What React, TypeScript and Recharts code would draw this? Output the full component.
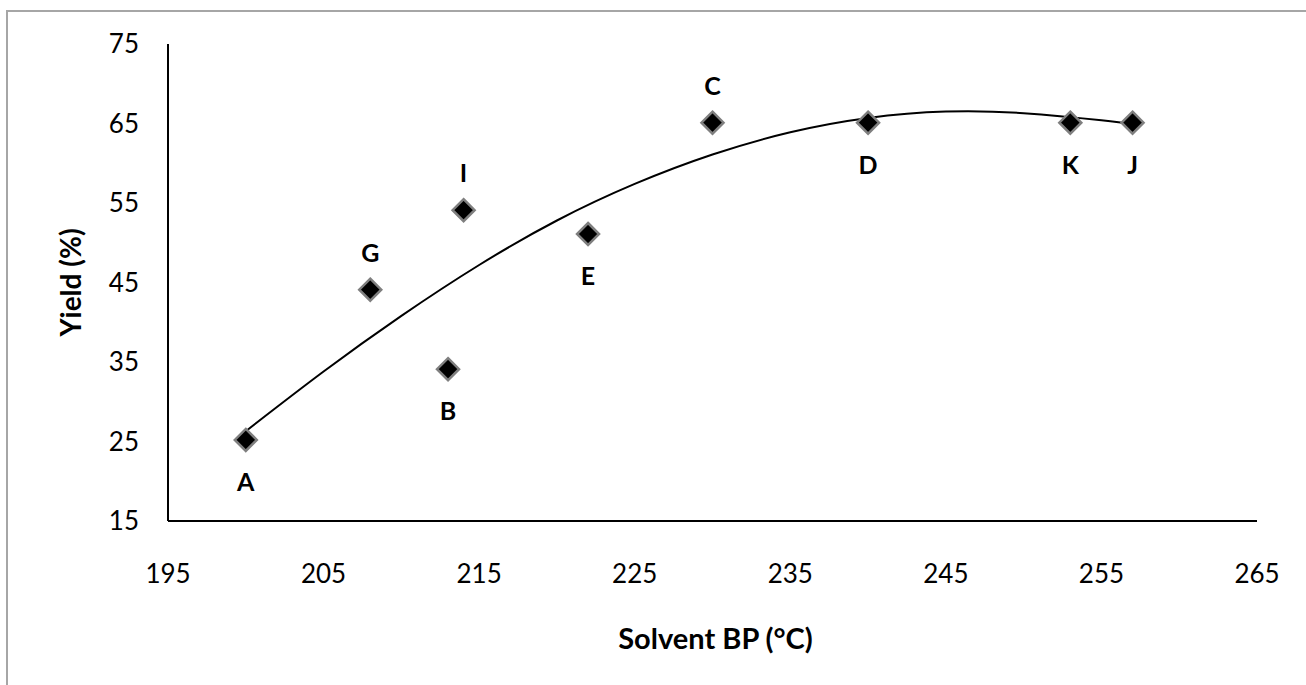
import React from 'react';
import { ComposedChart, Scatter, Line, XAxis, YAxis } from 'recharts';

// Solvent boiling points (°C) and yields (%)
const solvents = ['A', 'G', 'B', 'I', 'E', 'C', 'D', 'K', 'J'];
const boilingPoints = [200, 208, 213, 214, 222, 230, 240, 253, 257];
const yields = [25.2, 44.1, 34.1, 54.1, 51.1, 65.1, 65.1, 65.1, 65.1];
const labelSide = ['below', 'above', 'below', 'above', 'below', 'above', 'below', 'below', 'below'];

// Trend curve
const trendX = [200, 205, 210, 215, 220, 225, 230, 235, 240, 245, 250, 255, 257];
const trendY = [26.3, 33.8, 40.8, 47.2, 52.8, 57.4, 61.1, 63.9, 65.7, 66.5, 66.3, 65.4, 64.9];

const xTicks = [195, 205, 215, 225, 235, 245, 255, 265];
const yTicks = [15, 25, 35, 45, 55, 65, 75];

const points = solvents.map((name, i) => ({
  name,
  x: boilingPoints[i],
  y: yields[i],
  side: labelSide[i],
}));
const trend = trendX.map((x, i) => ({ x, t: trendY[i] }));

const FONT = 'Lato, "Open Sans", sans-serif';

const Diamond = (props: any) => {
  const { cx, cy, payload } = props;
  if (cx == null || cy == null) return null;
  const r = 11;
  const ly = payload.side === 'above' ? cy - 38 : cy + 41;
  return (
    <g>
      <path
        d={`M${cx},${cy - r}L${cx + r},${cy}L${cx},${cy + r}L${cx - r},${cy}Z`}
        fill="#000"
        stroke="#7f7f7f"
        strokeWidth={2.5}
      />
      <text
        x={cx}
        y={ly}
        textAnchor="middle"
        dominantBaseline="central"
        fontFamily={FONT}
        fontWeight={700}
        fontSize={25}
        fill="#000"
      >
        {payload.name}
      </text>
    </g>
  );
};

export default function App() {
  return (
    <div style={{ position: 'absolute', left: 0, top: 0, width: 1306, height: 685, background: '#fff', overflow: 'hidden' }}>
      <div
        style={{
          position: 'absolute',
          left: 6,
          top: 10,
          width: 1320,
          height: 700,
          borderTop: '2px solid #a6a6a6',
          borderLeft: '2px solid #a6a6a6',
        }}
      />
      <ComposedChart
        width={1306}
        height={685}
        margin={{ top: 44, right: 49, bottom: 0, left: 0 }}
        style={{ position: 'absolute', left: 0, top: 0 }}
      >
        <XAxis
          type="number"
          dataKey="x"
          domain={[195, 265]}
          ticks={xTicks}
          height={164}
          tickLine={false}
          tickSize={0}
          tickMargin={44}
          axisLine={{ stroke: '#000', strokeWidth: 2 }}
          tick={{ fill: '#000', fontSize: 26, fontFamily: FONT }}
          allowDuplicatedCategory={false}
          label={{
            content: (p: any) => {
              const vb = p.viewBox || {};
              return (
                <text
                  x={vb.x + vb.width / 2 + 3}
                  y={vb.y + 116}
                  textAnchor="middle"
                  dominantBaseline="central"
                  fontFamily={FONT}
                  fontWeight={700}
                  fontSize={29}
                  fill="#000"
                >
                  Solvent BP (°C)
                </text>
              );
            },
          }}
        />
        <YAxis
          type="number"
          domain={[15, 75]}
          ticks={yTicks}
          width={168}
          tickLine={false}
          tickSize={0}
          tickMargin={29}
          axisLine={{ stroke: '#000', strokeWidth: 2 }}
          tick={{ fill: '#000', fontSize: 26, fontFamily: FONT }}
          label={{
            content: (p: any) => {
              const vb = p.viewBox || {};
              const cx = 70;
              const cy = vb.y + vb.height / 2;
              return (
                <text
                  x={cx}
                  y={cy}
                  transform={`rotate(-90 ${cx} ${cy})`}
                  textAnchor="middle"
                  dominantBaseline="central"
                  fontFamily={FONT}
                  fontWeight={700}
                  fontSize={28}
                  fill="#000"
                >
                  Yield (%)
                </text>
              );
            },
          }}
        />
        <Line
          data={trend}
          dataKey="t"
          type="natural"
          stroke="#000"
          strokeWidth={2}
          dot={false}
          activeDot={false}
          isAnimationActive={false}
        />
        <Scatter data={points} dataKey="y" shape={<Diamond />} isAnimationActive={false} />
      </ComposedChart>
    </div>
  );
}
